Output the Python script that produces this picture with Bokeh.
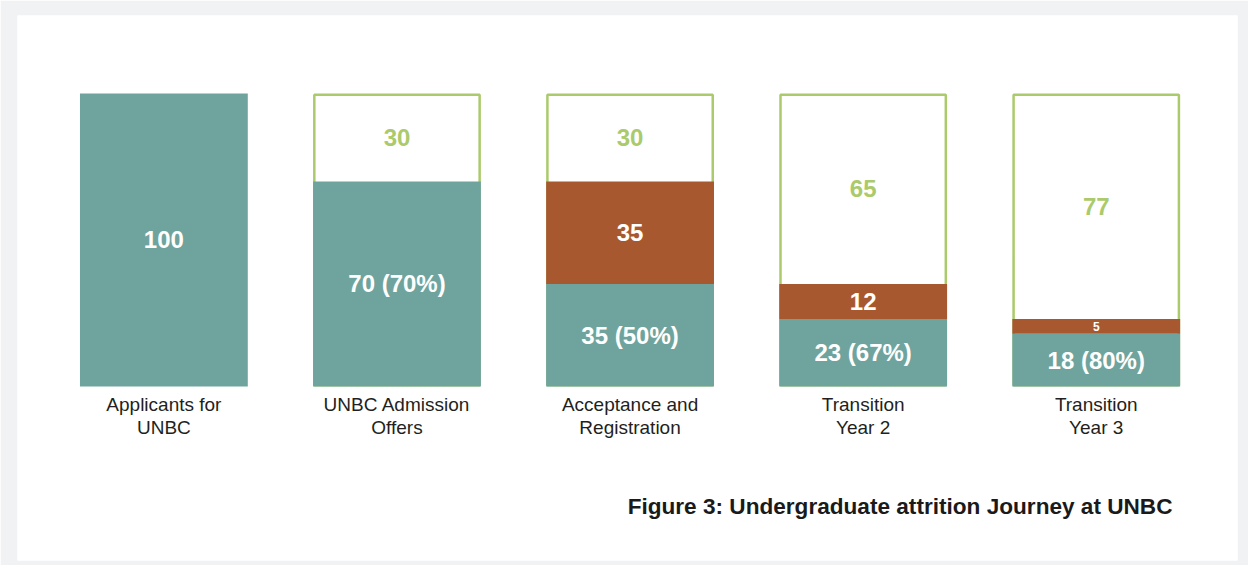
from bokeh.plotting import figure
from bokeh.models import ColumnDataSource, Range1d, Label
from bokeh.core.properties import value
from bokeh.embed import file_html
from bokeh.resources import INLINE

categories = ["Applicants for\nUNBC", "UNBC Admission\nOffers", "Acceptance and\nRegistration",
              "Transition\nYear 2", "Transition\nYear 3"]
retained = [100, 70, 35, 23, 18]
retained_labels = ["100", "70 (70%)", "35 (50%)", "23 (67%)", "18 (80%)"]
dropped = [0, 0, 35, 12, 5]
remaining = [0, 30, 30, 65, 77]
title_text = "Figure 3: Undergraduate attrition Journey at UNBC"

TEAL = "#6fa49e"
BROWN = "#a8582f"
GREEN = "#abca6b"
GRAY_BG = "#f1f2f4"
FONT = "Liberation Sans"

x = list(range(len(categories)))
px_per_unit_x = 232.85
px_per_unit_y = 2.93
bar_w = 0.72
stroke = 2.5
inset_w = bar_w - stroke / px_per_unit_x
inset_y = stroke / 2 / px_per_unit_y

p = figure(width=1248, height=565, output_backend="svg", toolbar_location=None,
           x_axis_type=None, y_axis_type=None,
           x_range=Range1d(-0.628, 4.606), y_range=Range1d(-59.39, 126.62),
           min_border_left=17, min_border_top=15, min_border_right=11, min_border_bottom=5)
p.border_fill_color = GRAY_BG
p.background_fill_color = "white"
p.outline_line_color = None
p.grid.visible = False

totals = [r + d + g for r, d, g in zip(retained, dropped, remaining)]
has_rem = [g > 0 for g in remaining]

# outline boxes (only where there is a remaining segment)
ox = [xi for xi, h in zip(x, has_rem) if h]
otop = [t - inset_y for t, h in zip(totals, has_rem) if h]
p.vbar(x=ox, width=inset_w, bottom=inset_y, top=otop, fill_color="white",
       line_color=GREEN, line_width=stroke)

src = ColumnDataSource(dict(
    x=x, retained=retained, dropped_top=[r + d for r, d in zip(retained, dropped)],
    rlab=retained_labels,
    rmid=[r / 2 for r in retained],
    cat=categories,
))
p.vbar(x="x", width=bar_w, bottom=0, top="retained", source=src,
       fill_color=TEAL, line_color=None)
p.vbar(x="x", width=bar_w, bottom="retained", top="dropped_top", source=src,
       fill_color=BROWN, line_color=None)

VAL_FS = "24px"
p.text(x="x", y="rmid", text="rlab", source=src, text_color="white",
       text_font=value(FONT), text_font_style="bold", text_font_size=VAL_FS,
       text_align="center", text_baseline="middle")

for i in x:
    if dropped[i] > 0:
        fs = VAL_FS if dropped[i] >= 10 else "12px"
        p.text(x=[i], y=[retained[i] + dropped[i] / 2], text=[str(dropped[i])],
               text_color="white", text_font=value(FONT), text_font_style="bold",
               text_font_size=fs, text_align="center", text_baseline="middle")
    if remaining[i] > 0:
        p.text(x=[i], y=[retained[i] + dropped[i] + remaining[i] / 2], text=[str(remaining[i])],
               text_color=GREEN, text_font=value(FONT), text_font_style="bold",
               text_font_size=VAL_FS, text_align="center", text_baseline="middle")

# category labels
p.text(x="x", y=0, text="cat", source=src, text_color="#231f20",
       text_font=value(FONT), text_font_size="19px", text_align="center",
       text_baseline="top", y_offset=8, text_line_height=1.06)

p.add_layout(Label(x=4.327, y=-40.96, text=title_text, text_font=FONT,
                   text_font_style="bold", text_font_size="22.6px", text_color="#1a1a1a",
                   text_align="right", text_baseline="middle"))

open("out.html", "w").write(file_html(p, INLINE))
